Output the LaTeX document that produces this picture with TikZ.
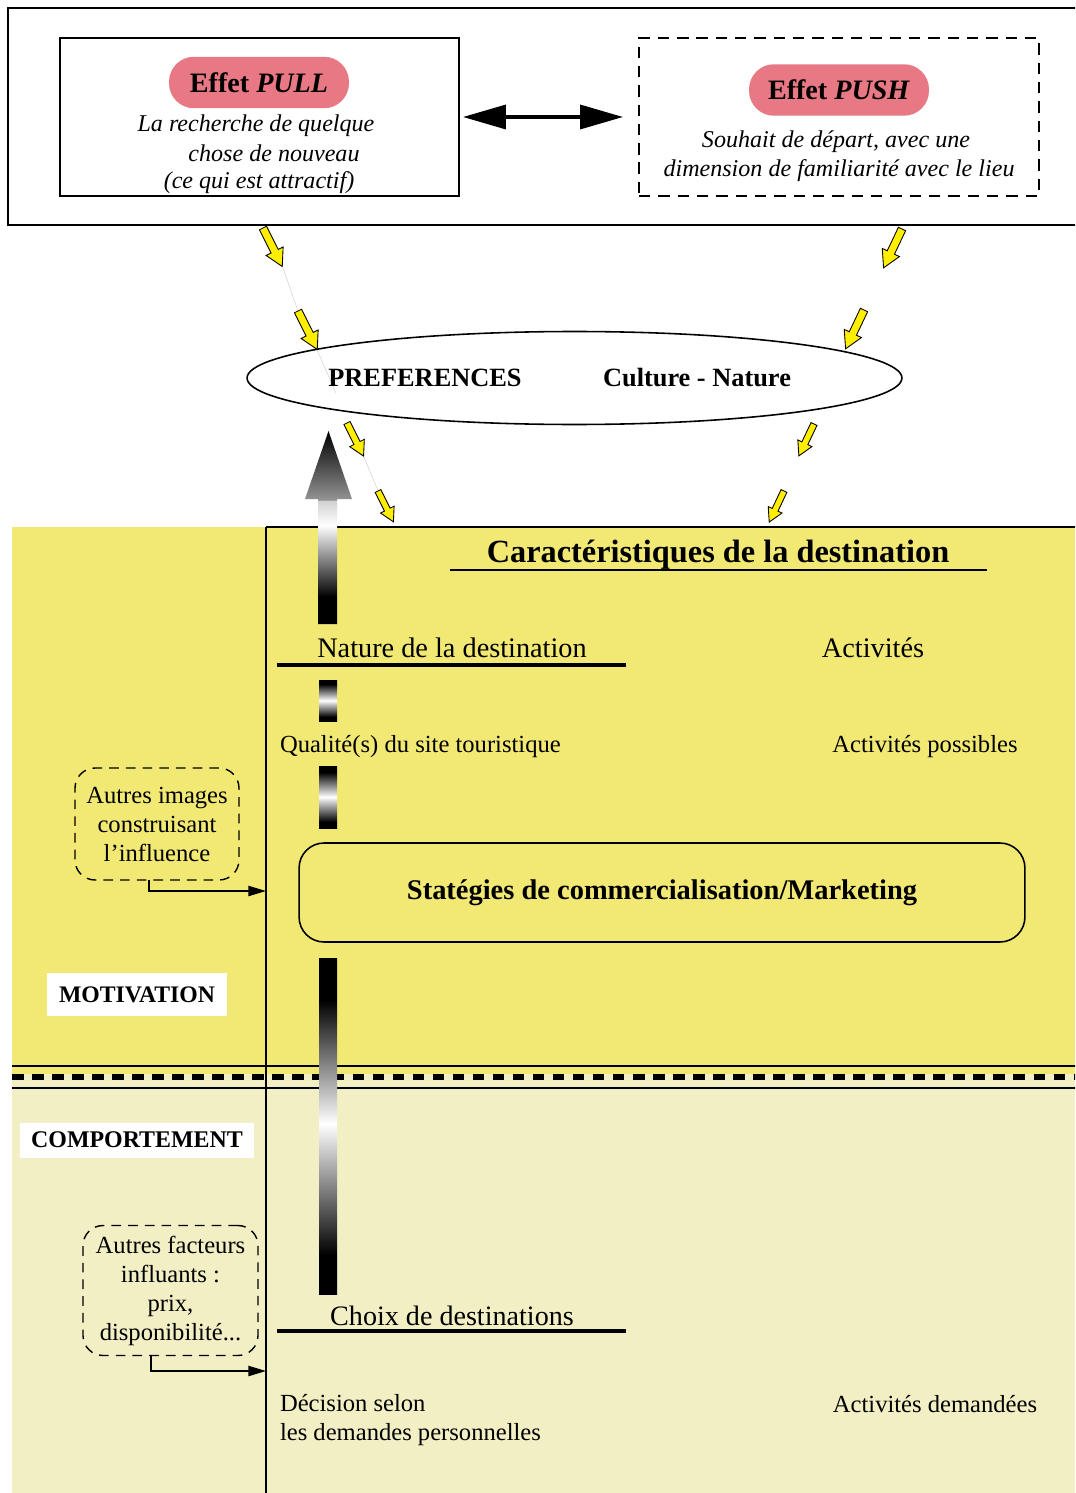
\documentclass[tikz,border=0pt]{standalone}
\usepackage{fontspec}
\setmainfont{Liberation Serif}
\usetikzlibrary{shapes.geometric,arrows.meta}
\definecolor{yel}{RGB}{242,233,116}
\definecolor{pale}{RGB}{242,239,196}
\definecolor{pillc}{RGB}{232,120,132}
\definecolor{arrowyel}{RGB}{255,238,0}
\pgfdeclareverticalshading{bigbar}{100bp}{color(0bp)=(black); color(30.8bp)=(black); color(50.3bp)=(white); color(68.75bp)=(black); color(100bp)=(black)}
\pgfdeclareverticalshading{smallbar}{100bp}{color(0bp)=(black); color(30bp)=(black); color(50bp)=(white); color(70bp)=(black); color(100bp)=(black)}
\pgfdeclareverticalshading{uparrowshade}{100bp}{color(0bp)=(black); color(32bp)=(black); color(50.6bp)=(white); color(56.9bp)=(black!18); color(57.2bp)=(black!42); color(75bp)=(black); color(100bp)=(black)}
\tikzset{
  x=0.02cm, y=-0.02cm,
  every node/.style={inner sep=0pt, outer sep=0pt},
  yarrstyle/.style={draw=black, line width=0.5pt, fill=arrowyel, line join=miter},
  yarr/.pic={\path[yarrstyle] (0,-4) -- (26,-4) -- (26,-9.5) -- (43,0) -- (26,9.5) -- (26,4) -- (0,4) -- cycle;},
  faint/.style={gray!35, line width=0.3pt},
  boxline/.style={draw=black, line width=0.9pt},
  pillbox/.style={fill=pillc, rounded corners=0.5cm, minimum width=3.6cm, minimum height=1.03cm, font=\bfseries\fontsize{16}{19}\selectfont},
  itxt/.style={font=\itshape\fontsize{13.7}{16.5}\selectfont},
  txt/.style={font=\fontsize{14}{17}\selectfont},
  bigtxt/.style={font=\fontsize{16.1}{19}\selectfont},
  dbox/.style={draw=black, line width=0.8pt, dash pattern=on 5.5pt off 4pt, rounded corners=0.4cm, align=center, font=\fontsize{14}{16.5}\selectfont},
  lab/.style={fill=white, font=\bfseries\fontsize{13.5}{16}\selectfont},
  conn/.style={draw=black, line width=0.8pt, -{Triangle[length=10pt,width=5.8pt]}},
  uline/.style={line width=1.8pt}
}
\begin{document}
\begin{tikzpicture}
\useasboundingbox (0,0) rectangle (1075,1493);
\clip (0,0) rectangle (1075,1493);
\fill[white] (0,0) rectangle (1075,1493);

% ---------- top frame ----------
\draw[line width=0.9pt] (1090,8) -- (8,8) -- (8,225) -- (1090,225);

\node[boxline, minimum width=7.98cm, minimum height=3.16cm] (pullbox) at (259.5,117) {};
\node[pillbox] (pullpill) at (259,82.5) {Effet \textit{PULL}};
\node[itxt] (pull1) at (256,126) {La recherche de quelque};
\node[itxt] (pull2) at (274,153) {chose de nouveau};
\node[itxt] (pull3) at (259,183) {(ce qui est attractif)};

\node[draw=black, line width=0.9pt, dash pattern=on 6.5pt off 4.5pt, minimum width=8cm, minimum height=3.16cm] (pushbox) at (839,117) {};
\node[pillbox] (pushpill) at (839,90) {Effet \textit{PUSH}};
\node[itxt] (push1) at (836,142) {Souhait de départ, avec une};
\node[itxt] (push2) at (839,171) {dimension de familiarité avec le lieu};

\draw[line width=2pt, {Triangle[length=24.4pt,width=13.6pt]}-{Triangle[length=24.4pt,width=13.6pt]}, shorten <=0.08cm, shorten >=0.32cm] (pullbox.east) -- (pushbox.west);

% ---------- preferences ellipse ----------
\node[ellipse, draw=black, line width=0.9pt, fill=white, minimum width=13.1cm, minimum height=1.86cm] (pref) at (574.5,378) {};
\coordinate (f1) at (283,268); \coordinate (f2) at (298,311);
\coordinate (f3) at (317,350); \coordinate (f4) at (336,393);
\coordinate (f5) at (364,457); \coordinate (f6) at (378,491);
\draw[faint] (f1) -- (f2);
\draw[faint] (f3) -- (f4);
\draw[faint] (f5) -- (f6);
\node[font=\bfseries\fontsize{15}{18}\selectfont] (prefA) at (425,378) {PREFERENCES};
\node[font=\bfseries\fontsize{15}{18}\selectfont] (prefB) at (697,378) {Culture - Nature};

% yellow arrows
\path (263,228) pic[rotate=-63.4] {yarr};
\path (298,311) pic[rotate=-63.4] {yarr};
\path (347,423) pic[rotate=-63.4, scale=0.86] {yarr};
\path (378,491) pic[rotate=-63.4, scale=0.8] {yarr};
\path (902,229) pic[rotate=-115.4] {yarr};
\path (864,310) pic[rotate=-115.4] {yarr};
\path (814,424) pic[rotate=-115.4, scale=0.82] {yarr};
\path (784,491) pic[rotate=-115.4, scale=0.8] {yarr};

% ---------- coloured regions ----------
\fill[yel] (12,527) rectangle (1075,1074);
\fill[pale] (12,1074) rectangle (1075,1493);
\draw[line width=0.8pt] (266,527) -- (1080,527);
\draw[line width=0.8pt] (266,527) -- (266,1500);
\draw[line width=0.8pt] (12,1066) -- (1080,1066);
\draw[line width=0.8pt] (12,1088) -- (1080,1088);
\draw[line width=3.3pt, dash pattern=on 6.6pt off 4.8pt] (12,1077) -- (1080,1077);

% up arrow (gradient)
\shade[shading=uparrowshade] (318,624) -- (318,499) -- (305,499) -- (328.5,431) -- (352,499) -- (337,499) -- (337,624) -- cycle;

% title
\node[font=\bfseries\fontsize{18.4}{22}\selectfont] (title) at (718,555) {Caractéristiques de la destination};
\draw[line width=1.2pt] (450,570) -- (987,570);

\node[bigtxt] (nature) at (452,648) {Nature de la destination};
\draw[uline] (277,665) -- (626,665);
\node[bigtxt] (activ) at (873,648) {Activités};

\shade[shading=smallbar] (319,680) rectangle (337,721);
\node[txt, anchor=west] (qual) at (280,747) {Qualité(s) du site touristique};
\node[txt] (activp) at (925,747) {Activités possibles};
\shade[shading=smallbar] (319,766) rectangle (337,828);

\node[dbox, minimum width=3.28cm, minimum height=2.24cm] (img) at (157,824) {Autres images\\construisant\\l’influence};
\coordinate (imgout) at (149,880);
\coordinate (vl1) at (266,891);
\draw[conn] (imgout) |- (vl1);

\node[draw=black, line width=0.9pt, fill=yel, rounded corners=0.5cm, minimum width=14.52cm, minimum height=1.98cm, font=\bfseries\fontsize{16.2}{19}\selectfont] (mkt) at (662,892.5) {Statégies de commercialisation/Marketing};

\node[lab, minimum width=3.6cm, minimum height=0.86cm] (motiv) at (137,994.5) {MOTIVATION};

\shade[shading=bigbar] (319,958) rectangle (337,1294);

\node[lab, minimum width=4.68cm, minimum height=0.7cm, font=\bfseries\fontsize{13.6}{16}\selectfont] (comp) at (137,1140) {COMPORTEMENT};

\node[dbox, minimum width=3.5cm, minimum height=2.6cm] (fact) at (170.5,1290.5) {Autres facteurs\\influants :\\prix,\\disponibilité...};
\coordinate (factout) at (151,1355);
\coordinate (vl2) at (266,1371);
\draw[conn] (factout) |- (vl2);

\node[font=\fontsize{16}{19}\selectfont] (choix) at (452,1316) {Choix de destinations};
\draw[uline] (277,1331) -- (626,1331);

\node[font=\fontsize{14}{17}\selectfont, align=left, anchor=west] (decis) at (280,1420) {Décision selon\\les demandes personnelles};
\node[txt] (activd) at (935,1404) {Activités demandées};
\end{tikzpicture}
\end{document}
